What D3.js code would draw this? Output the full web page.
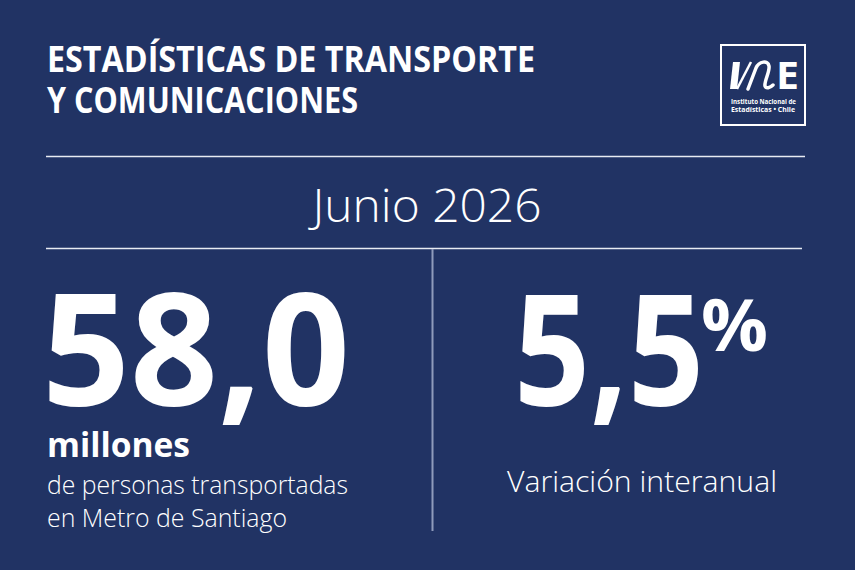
<!DOCTYPE html>
<html>
<head>
<meta charset="utf-8">
<script src="https://cdn.jsdelivr.net/npm/d3@7"></script>
<style>
html,body{margin:0;padding:0;background:#213364;}
svg{display:block;}
</style>
</head>
<body>
<svg id="c" width="855" height="570"></svg>
<script>
// ---- data ----
const headline = ["ESTADÍSTICAS DE TRANSPORTE", "Y COMUNICACIONES"];
const period = ["Junio 2026"];
const metricValues = [58.0, 5.5];
const metricUnits = ["millones", "%"];
const metricLabels = [["de personas transportadas", "en Metro de Santiago"], ["Variación interanual"]];
const logoText = ["Instituto Nacional de", "Estadísticas • Chile"];

const W = 855, H = 570;
const svg = d3.select("#c");
const bg = "#213364";
svg.append("rect").attr("width", W).attr("height", H).attr("fill", bg);

const loc = d3.formatLocale({decimal: ",", thousands: ".", grouping: [3], currency: ["$", ""]});
const fmt = loc.format(".1f");

const font = "'Open Sans', 'Noto Sans', sans-serif";

function txt(s, x, y, size, weight, len, anchor) {
  const t = svg.append("text")
    .attr("x", x).attr("y", y)
    .attr("fill", "#ffffff")
    .attr("font-family", font)
    .attr("font-size", size)
    .attr("font-weight", weight)
    .attr("text-anchor", anchor || "start")
    .text(s);
  if (len) t.attr("textLength", len).attr("lengthAdjust", "spacingAndGlyphs");
  return t;
}

// header
txt(headline[0], 47, 72, 35, 700, 488);
txt(headline[1], 47, 113, 35, 700, 311);

// logo
const lg = svg.append("g");
lg.append("rect").attr("x", 721).attr("y", 45).attr("width", 84).attr("height", 80)
  .attr("fill", "none").attr("stroke", "#ffffff").attr("stroke-width", 2);
// "I" slanted bar
lg.append("path").attr("d", "M730,89 L733,62 L740,62 L737,89 Z").attr("fill", "#fff");
// thin diagonal
lg.append("path").attr("d", "M737,89 L751,62").attr("stroke", "#fff").attr("stroke-width", 2.5).attr("fill", "none");
// "n" stroke
lg.append("path").attr("d", "M748,89 L756,68 C759,61 768,60 769,66 C770,72 764,81 765,86 C766,89 770,88 773,85")
  .attr("fill", "none").attr("stroke", "#fff").attr("stroke-width", 3.5).attr("stroke-linejoin", "round").attr("stroke-linecap", "round");
// "E"
lg.append("text").attr("x", 776).attr("y", 89).attr("fill", "#fff")
  .attr("font-family", font).attr("font-weight", 700).attr("font-size", 37)
  .attr("textLength", 23).attr("lengthAdjust", "spacingAndGlyphs").text("E");
lg.append("text").attr("x", 731).attr("y", 104).attr("fill", "#fff")
  .attr("font-family", font).attr("font-weight", 700).attr("font-size", 7)
  .attr("textLength", 65).attr("lengthAdjust", "spacingAndGlyphs").text(logoText[0]);
lg.append("text").attr("x", 731).attr("y", 111.5).attr("fill", "#fff")
  .attr("font-family", font).attr("font-weight", 700).attr("font-size", 7)
  .attr("textLength", 64).attr("lengthAdjust", "spacingAndGlyphs").text(logoText[1]);

// rules
svg.append("line").attr("x1", 46).attr("x2", 805).attr("y1", 156.5).attr("y2", 156.5)
  .attr("stroke", "#e8ebf2").attr("stroke-width", 1.5);
svg.append("line").attr("x1", 46).attr("x2", 802).attr("y1", 248.5).attr("y2", 248.5)
  .attr("stroke", "#e8ebf2").attr("stroke-width", 1.5);
svg.append("line").attr("x1", 432.5).attr("x2", 432.5).attr("y1", 249).attr("y2", 531)
  .attr("stroke", "#8f9bbb").attr("stroke-width", 2);

// period
txt(period[0], 427, 222, 46, 300, 229, "middle");

// metric 1
txt(fmt(metricValues[0]), 42, 405, 157, 700, 308);
txt(metricUnits[0], 47, 457, 34, 700, 143);
txt(metricLabels[0][0], 47, 494, 25, 300, 301);
txt(metricLabels[0][1], 47, 527, 25, 300, 240);

// metric 2
txt(fmt(metricValues[1]), 514, 405, 155, 700, 190);
txt(metricUnits[1], 701, 351, 72, 700, 67);
txt(metricLabels[1][0], 507, 492, 29, 300, 270);
</script>
</body>
</html>
